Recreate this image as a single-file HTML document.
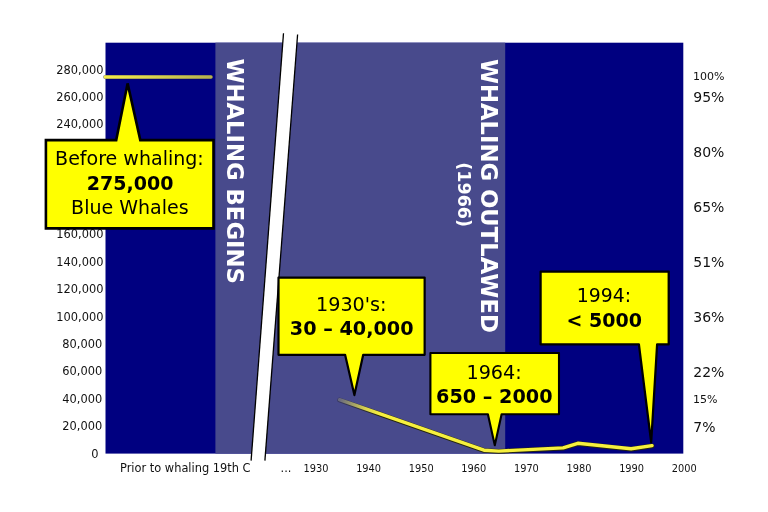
<!DOCTYPE html>
<html><head><meta charset="utf-8"><title>Blue whale population</title>
<style>
html,body{margin:0;padding:0;background:#fff;}
body{width:768px;height:512px;overflow:hidden;}
svg{display:block;}
text{font-family:"DejaVu Sans","Liberation Sans",sans-serif;fill:#111;}
.ax{font-size:11.4px;}
.yr{font-family:"DejaVu Sans Condensed","DejaVu Sans","Liberation Sans",sans-serif;font-size:10.9px;}
.pc{font-size:14.0px;}
.ps{font-size:11.0px;}
.co{font-size:19.05px;text-anchor:middle;fill:#000;}
.c2{font-size:19.2px;}
.b{font-weight:bold;}
.v{font-weight:bold;fill:#fff;font-size:22.73px;}
.v2{font-weight:bold;fill:#fff;font-size:17.5px;}
.box{fill:#ffff00;stroke:#000;stroke-width:2;stroke-linejoin:miter;stroke-miterlimit:4;}
</style></head><body>
<svg width="768" height="512" viewBox="0 0 768 512">
<defs>
<linearGradient id="g1" gradientUnits="userSpaceOnUse" x1="104" y1="0" x2="212" y2="0">
<stop offset="0" stop-color="#f6ee48"/><stop offset="0.4" stop-color="#dcd84e"/><stop offset="1" stop-color="#b4b050"/>
</linearGradient>
<linearGradient id="g2" gradientUnits="userSpaceOnUse" x1="339" y1="399.5" x2="381" y2="414.4">
<stop offset="0" stop-color="#66667e"/><stop offset="0.3" stop-color="#9c9a6a"/><stop offset="0.65" stop-color="#dcd64c"/><stop offset="1" stop-color="#f6f03e"/>
</linearGradient>
<linearGradient id="g2d" gradientUnits="userSpaceOnUse" x1="339" y1="399.5" x2="381" y2="414.4">
<stop offset="0" stop-color="#303050" stop-opacity="0.7"/><stop offset="1" stop-color="#26260c"/>
</linearGradient>
</defs>
<rect x="0" y="0" width="768" height="512" fill="#ffffff"/>
<rect x="105.5" y="42.7" width="577.8" height="410.9" fill="#000080"/>
<rect x="215.4" y="42.7" width="289.8" height="410.9" fill="#484a8c"/>
<polygon points="283.5,33.2 297.6,34.5 264.9,460.6 251.1,460.6" fill="#ffffff"/>
<line x1="283.5" y1="33.2" x2="251.1" y2="460.6" stroke="#000" stroke-width="1.3"/>
<line x1="297.6" y1="34.5" x2="264.9" y2="460.6" stroke="#000" stroke-width="1.3"/>
<text class="ax" x="98.4" y="458.1" text-anchor="end">0</text>
<text class="ax" x="102.2" y="430.2" text-anchor="end">20,000</text>
<text class="ax" x="102.2" y="402.7" text-anchor="end">40,000</text>
<text class="ax" x="102.2" y="375.3" text-anchor="end">60,000</text>
<text class="ax" x="102.2" y="347.9" text-anchor="end">80,000</text>
<text class="ax" x="103.4" y="320.5" text-anchor="end">100,000</text>
<text class="ax" x="103.4" y="293.0" text-anchor="end">120,000</text>
<text class="ax" x="103.4" y="265.6" text-anchor="end">140,000</text>
<text class="ax" x="103.4" y="238.2" text-anchor="end">160,000</text>
<text class="ax" x="103.4" y="210.7" text-anchor="end">180,000</text>
<text class="ax" x="103.4" y="183.3" text-anchor="end">200,000</text>
<text class="ax" x="103.4" y="155.9" text-anchor="end">220,000</text>
<text class="ax" x="103.4" y="128.4" text-anchor="end">240,000</text>
<text class="ax" x="103.4" y="101.0" text-anchor="end">260,000</text>
<text class="ax" x="103.4" y="73.6" text-anchor="end">280,000</text>
<text class="ax" x="120.0" y="472">Prior to whaling 19th C</text>
<text class="ax" x="286" y="472" text-anchor="middle">...</text>
<text class="yr" x="316.0" y="472" text-anchor="middle">1930</text>
<text class="yr" x="368.6" y="472" text-anchor="middle">1940</text>
<text class="yr" x="421.2" y="472" text-anchor="middle">1950</text>
<text class="yr" x="473.8" y="472" text-anchor="middle">1960</text>
<text class="yr" x="526.4" y="472" text-anchor="middle">1970</text>
<text class="yr" x="579.0" y="472" text-anchor="middle">1980</text>
<text class="yr" x="631.6" y="472" text-anchor="middle">1990</text>
<text class="yr" x="684.2" y="472" text-anchor="middle">2000</text>
<text class="ps" x="693.1" y="80.1">100%</text>
<text class="pc" x="693.3" y="102.3">95%</text>
<text class="pc" x="693.3" y="157.2">80%</text>
<text class="pc" x="693.3" y="212.0">65%</text>
<text class="pc" x="693.3" y="266.9">51%</text>
<text class="pc" x="693.3" y="321.8">36%</text>
<text class="pc" x="693.3" y="376.6">22%</text>
<text class="pc" x="693.3" y="431.5">7%</text>
<text class="ps" x="693.1" y="403.3">15%</text>
<text class="v" transform="translate(227.3,58.4) rotate(90)">WHALING BEGINS</text>
<text class="v" transform="translate(480.6,58.9) rotate(90)">WHALING OUTLAWED</text>
<text class="v2" transform="translate(458.2,162.3) rotate(90)">(1966)</text>
<line x1="105.3" y1="77.05" x2="211.0" y2="77.05" stroke="#151540" stroke-width="4.3" stroke-linecap="round" opacity="0.55"/>
<line x1="105.3" y1="77.05" x2="211.0" y2="77.05" stroke="url(#g1)" stroke-width="3.4" stroke-linecap="round"/>
<polyline points="339.5,399.7 484,450.2 498.7,451.1 563.1,447.9 577.8,443.3 631.1,448.8 652,445.6" fill="none" stroke="url(#g2d)" stroke-width="4.7" stroke-linejoin="round" stroke-linecap="round" transform="translate(0,0.3)"/>
<polyline points="339.5,399.7 484,450.2 498.7,451.1 563.1,447.9 577.8,443.3 631.1,448.8 652,445.6" fill="none" stroke="url(#g2)" stroke-width="3.4" stroke-linejoin="round" stroke-linecap="round"/>
<path class="box" d="M45.9,140.1 H116.2 L127.6,83.4 L140.3,140.1 H213.5 V228.4 H45.9 Z" style="stroke-width:2.6;stroke-linejoin:miter"/>
<text class="co" x="129.45" y="165.1">Before whaling:</text>
<text class="co b" x="130.2" y="189.5">275,000</text>
<text class="co" x="129.9" y="213.9">Blue Whales</text>
<path class="box" d="M278.5,277.6 H424.65 V354.85 H363.2 L354.4,395.1 L345.1,354.85 H278.5 Z" style="stroke-width:2.2;stroke-linejoin:round"/>
<text class="co c2" x="351.3" y="311.1">1930's:</text>
<text class="co c2 b" x="351.7" y="334.7">30 – 40,000</text>
<path class="box" d="M430.4,353.0 H559 V414.2 H501.6 L494.8,445.3 L487.9,414.2 H430.4 Z" style="stroke-width:2.1;stroke-linejoin:round"/>
<text class="co c2" x="494.1" y="378.95">1964:</text>
<text class="co c2 b" x="494.3" y="402.8">650 – 2000</text>
<path class="box" d="M540.6,271.5 H668.7 V344.45 H657.1 L651.2,442.3 L638.9,344.45 H540.6 Z" style="stroke-width:2.25;stroke-linejoin:round"/>
<text class="co" x="604" y="302" style="font-size:18.85px">1994:</text>
<text class="co b" x="604.2" y="327.3">&lt; 5000</text>
</svg>
</body></html>
